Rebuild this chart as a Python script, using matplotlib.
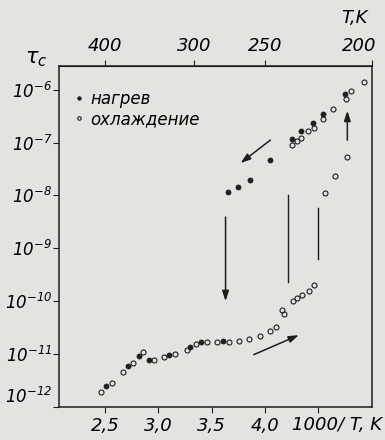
import matplotlib
matplotlib.use('Agg')
import matplotlib.pyplot as plt
import matplotlib.transforms as mtransforms

plt.rcParams['font.family'] = ['DejaVu Sans']
plt.rcParams['font.style'] = 'italic'
plt.rcParams['mathtext.fontset'] = 'dejavusans'
plt.rcParams['mathtext.default'] = 'it'

# heating (filled dots): 1000/T and tau_c, s
heat_x = [2.51, 2.72, 2.82, 2.91, 3.10, 3.30, 3.40, 3.61,
          3.65, 3.75, 3.86, 4.05, 4.25, 4.34, 4.45, 4.54, 4.75]
heat_tau = [2.45e-12, 5.9e-12, 9.1e-12, 7.6e-12, 9.8e-12, 1.38e-11, 1.7e-11, 1.78e-11,
            1.17e-8, 1.45e-8, 2.0e-8, 4.7e-8, 1.17e-7, 1.66e-7, 2.3e-7, 3.5e-7, 8.1e-7]

# cooling (open circles)
cool_x = [2.46, 2.57, 2.67, 2.76, 2.86, 2.96, 3.05, 3.16, 3.27, 3.35, 3.46, 3.55,
          3.66, 3.76, 3.85, 3.95, 4.05, 4.10, 4.16, 4.18, 4.26, 4.30, 4.35, 4.41,
          4.46, 4.56, 4.65, 4.77,
          4.25, 4.30, 4.34, 4.40, 4.46, 4.54, 4.64, 4.76, 4.80, 4.93]
cool_tau = [1.9e-12, 2.9e-12, 4.5e-12, 6.9e-12, 1.12e-11, 7.9e-12, 8.9e-12, 1.02e-11,
            1.2e-11, 1.58e-11, 1.66e-11, 1.7e-11, 1.7e-11, 1.78e-11, 1.95e-11, 2.24e-11,
            2.75e-11, 3.3e-11, 6.9e-11, 5.8e-11, 1.0e-10, 1.15e-10, 1.32e-10, 1.55e-10,
            2.0e-10, 1.12e-8, 2.3e-8, 5.4e-8,
            8.9e-8, 1.07e-7, 1.2e-7, 1.66e-7, 1.86e-7, 2.75e-7, 4.3e-7, 6.6e-7, 9.3e-7, 1.38e-6]

x_ticks = [2.5, 3.0, 3.5, 4.0, 4.5]
x_labels = ['2,5', '3,0', '3,5', '4,0', '']
temps = [400, 300, 250, 200]
y_exps = [-12, -11, -10, -9, -8, -7, -6]

# arrows: (x0, tau0) -> (x1, tau1), head at the second point
arrows = [((4.07, 1.2e-7), (3.75, 3.8e-8)),
          ((3.87, 9.3e-12), (4.34, 2.4e-11)),
          ((3.63, 4.4e-9), (3.63, 8.9e-11)),
          ((4.77, 9.8e-8), (4.77, 4.5e-7))]
# plain vertical strokes: x, tau_top, tau_bottom
strokes = [(4.21, 1.0e-8, 2.3e-10), (4.50, 5.9e-9, 6.2e-10)]

bg = '#e3e3e0'
ink = '#1e1e1e'

fig = plt.figure(figsize=(3.85, 4.4), dpi=100, facecolor=bg)
ax = fig.add_axes([0.153, 0.075, 0.813, 0.775], facecolor=bg)

ax.plot(cool_x, cool_tau, 'o', ms=3.6, mfc='none', mec=ink, mew=0.8,
        linestyle='none', label='охлаждение')
ax.plot(heat_x, heat_tau, 'o', ms=3.6, mfc=ink, mec=ink, mew=0.6,
        linestyle='none', label='нагрев')

for (x0, y0), (x1, y1) in arrows:
    ax.annotate('', xy=(x1, y1), xytext=(x0, y0),
                arrowprops=dict(arrowstyle='-|>,head_length=0.6,head_width=0.2',
                                color=ink, lw=1.1))
for xs, y0, y1 in strokes:
    ax.plot([xs, xs], [y0, y1], color=ink, lw=1.0)

ax.set_yscale('log')
ax.set_xlim(2.07, 5.0)
ax.set_ylim(1.0e-12, 2.8e-6)
ax.set_xticks(x_ticks)
ax.set_xticklabels(x_labels, fontsize=13)
ax.set_yticks([10.0 ** e for e in y_exps])
ax.set_yticklabels([r'$10^{%d}$' % e for e in y_exps], fontsize=12)
ax.minorticks_off()
ax.tick_params(direction='out', length=4, width=0.8, color=ink)
ax.tick_params(axis='y', pad=1)
for s in ax.spines.values():
    s.set_color(ink)
    s.set_linewidth(1.1)

# the bottom y label sits a bit above its tick, as in the scan
low = ax.get_yticklabels()[0]
low.set_transform(low.get_transform() +
                  mtransforms.ScaledTranslation(0, 9 / 72, fig.dpi_scale_trans))

top = ax.secondary_xaxis('top')
top.set_xticks([1000.0 / t for t in temps])
top.set_xticklabels([str(t) for t in temps], fontsize=13)
top.tick_params(direction='out', length=4, width=0.8, color=ink, pad=4)
last = top.get_xticklabels()[-1]
last.set_transform(last.get_transform() +
                   mtransforms.ScaledTranslation(-9 / 72, 0, fig.dpi_scale_trans))

trans = mtransforms.blended_transform_factory(ax.transData, ax.transAxes)
ax.text(4.67, -0.025, '1000/ T, K', transform=trans, ha='center', va='top',
        fontsize=13, clip_on=False)
fig.text(0.92, 0.96, 'T,K', ha='center', va='center', fontsize=13)
fig.text(0.095, 0.865, r'$\tau_c$', ha='center', va='center', fontsize=15)

handles, labels = ax.get_legend_handles_labels()
ax.legend(handles[::-1], labels[::-1], loc='upper left', bbox_to_anchor=(0.0, 0.975),
          frameon=False, fontsize=12, handlelength=0.6, handletextpad=0.4,
          labelspacing=0.15, markerscale=0.7, borderaxespad=0.5)

fig.savefig('out.png', dpi=100, facecolor=bg)
